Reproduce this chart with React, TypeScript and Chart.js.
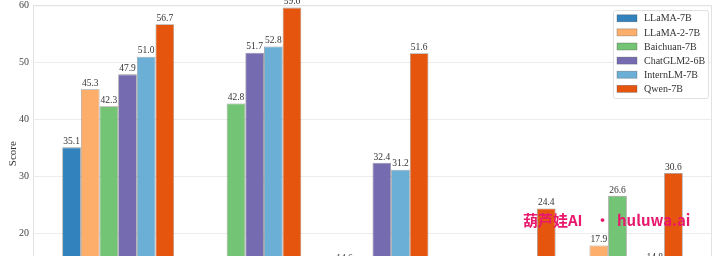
import React, { useEffect, useRef } from "react";
import { Chart, registerables } from "chart.js";
Chart.register(...registerables);

const categories = ["MMLU", "C-Eval", "GSM8K", "HumanEval", "WMT22 (en-zh)"];
const models = ["LLaMA-7B", "LLaMA-2-7B", "Baichuan-7B", "ChatGLM2-6B", "InternLM-7B", "Qwen-7B"];
const llama7b = [35.1, null, 11.0, 10.5, 8.7];
const llama2_7b = [45.3, null, 14.6, 12.8, 17.9];
const baichuan7b = [42.3, 42.8, 9.7, 9.2, 26.6];
const chatglm2_6b = [47.9, 51.7, 32.4, 9.2, null];
const internlm7b = [51.0, 52.8, 31.2, 10.4, 14.8];
const qwen7b = [56.7, 59.6, 51.6, 24.4, 30.6];
const yTicks = [10, 20, 30, 40, 50, 60];

const seriesValues = [llama7b, llama2_7b, baichuan7b, chatglm2_6b, internlm7b, qwen7b];
const colors = ["#3182bd", "#fdae6b", "#74c476", "#756bb1", "#6baed6", "#e6550d"];
const SERIF = '"Liberation Serif", "DejaVu Serif", serif';
const Y_MIN = 8;
const Y_MAX = 60;

const valueLabels = {
  id: "valueLabels",
  afterDatasetsDraw(chart: any) {
    const ctx = chart.ctx;
    ctx.save();
    ctx.font = `9.5px ${SERIF}`;
    ctx.fillStyle = "#333";
    ctx.textAlign = "center";
    ctx.textBaseline = "bottom";
    chart.data.datasets.forEach((ds: any, di: number) => {
      const meta = chart.getDatasetMeta(di);
      meta.data.forEach((el: any, i: number) => {
        const v = ds.data[i].y;
        if (v === null || v === undefined || v < Y_MIN) return;
        ctx.fillText(v.toFixed(1), el.x, el.y - 1);
      });
    });
    ctx.restore();
  },
};

const frame = {
  id: "frame",
  afterDatasetsDraw(chart: any) {
    const { ctx, chartArea } = chart;
    ctx.save();
    ctx.strokeStyle = "#e2e2e2";
    ctx.lineWidth = 1;
    ctx.beginPath();
    ctx.moveTo(chartArea.left, chartArea.top + 0.5);
    ctx.lineTo(chartArea.right - 0.5, chartArea.top + 0.5);
    ctx.lineTo(chartArea.right - 0.5, chartArea.bottom);
    ctx.stroke();
    ctx.restore();
  },
};

const innerLegend = {
  id: "innerLegend",
  afterDraw(chart: any) {
    const ctx = chart.ctx;
    const x0 = 613, y0 = 10, w = 95, h = 88;
    ctx.save();
    ctx.fillStyle = "rgba(255,255,255,0.9)";
    ctx.strokeStyle = "#e0e0e0";
    ctx.lineWidth = 1;
    ctx.beginPath();
    ctx.roundRect(x0 + 0.5, y0 + 0.5, w, h, 2);
    ctx.fill();
    ctx.stroke();
    ctx.font = `10px ${SERIF}`;
    ctx.textBaseline = "middle";
    ctx.textAlign = "left";
    chart.data.datasets.forEach((ds: any, i: number) => {
      const cy = 18.3 + i * 14.1;
      ctx.fillStyle = ds.backgroundColor;
      ctx.fillRect(617, cy - 3.5, 20, 7);
      ctx.strokeStyle = "rgba(70,70,70,0.5)";
      ctx.lineWidth = 0.6;
      ctx.strokeRect(617, cy - 3.5, 20, 7);
      ctx.fillStyle = "#333";
      ctx.fillText(ds.label, 644, cy + 0.5);
    });
    ctx.restore();
  },
};

export default function App() {
  const ref = useRef<HTMLCanvasElement | null>(null);
  useEffect(() => {
    if (!ref.current) return;
    const chart = new Chart(ref.current, {
      type: "bar",
      data: {
        datasets: models.map((m, k) => ({
          label: m,
          data: categories.map((_, i) => ({ x: i, y: seriesValues[k][i] })),
          backgroundColor: colors[k],
          borderColor: "rgba(70,70,70,0.55)",
          borderWidth: 0.8,
          categoryPercentage: 0.88,
          barPercentage: 1.0,
        })),
      },
      options: {
        animation: false,
        responsive: true,
        maintainAspectRatio: false,
        layout: { padding: { left: 0, right: 8, top: 0, bottom: 0 } },
        plugins: { legend: { display: false }, tooltip: { enabled: false } },
        scales: {
          x: {
            type: "linear",
            min: -0.67,
            max: 4.67,
            offset: false,
            grid: { display: false, offset: false },
            border: { display: false },
            afterBuildTicks: (s: any) => {
              s.ticks = categories.map((_, i) => ({ value: i }));
            },
            afterFit: (s: any) => {
              s.height = 28;
              s.paddingLeft = 0;
              s.paddingRight = 0;
            },
            ticks: {
              font: { family: SERIF, size: 10 },
              color: "#333",
              callback: (v: any) => categories[v as number] ?? "",
            },
          },
          y: {
            min: Y_MIN,
            max: Y_MAX,
            afterBuildTicks: (s: any) => {
              s.ticks = yTicks.map((v) => ({ value: v }));
            },
            afterFit: (s: any) => {
              s.width = 33;
              s.paddingTop = 5.3;
              s.paddingBottom = 0;
            },
            grid: { color: "#ececec", lineWidth: 1, drawTicks: false },
            border: { display: true, color: "#e2e2e2" },
            ticks: {
              padding: 4,
              font: { family: SERIF, size: 10, lineHeight: 1 },
              color: "#444",
            },
            title: {
              display: true,
              text: "Score",
              font: { family: SERIF, size: 11 },
              color: "#333",
              padding: { top: 7, bottom: 0 },
            },
          },
        },
      },
      plugins: [valueLabels, frame, innerLegend],
    } as any);
    return () => chart.destroy();
  }, []);

  const wm: React.CSSProperties = {
    position: "absolute",
    top: 211,
    fontFamily: '"Noto Sans CJK SC", "Noto Sans", sans-serif',
    fontWeight: 700,
    fontSize: 15,
    lineHeight: "18px",
    color: "#e8186d",
    whiteSpace: "pre",
  };

  return (
    <div style={{ position: "absolute", left: 0, top: 0, width: 720, height: 256, overflow: "hidden", background: "#fff" }}>
      <div style={{ position: "relative", width: 720, height: 330 }}>
        <canvas ref={ref} />
      </div>
      <span style={{ ...wm, left: 523 }}>葫芦娃AI</span>
      <span style={{ ...wm, left: 595 }}>·</span>
      <span style={{ ...wm, left: 617 }}>huluwa.ai</span>
    </div>
  );
}
